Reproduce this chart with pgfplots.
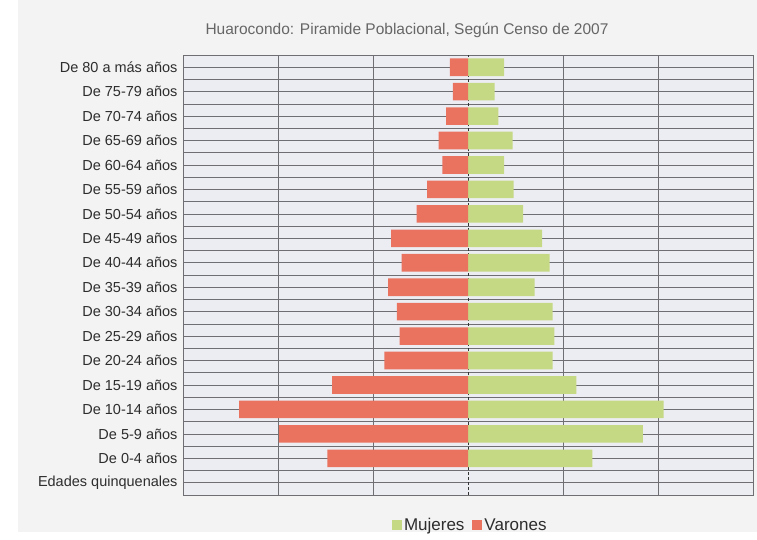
\documentclass[border=0pt]{standalone}
\usepackage{pgfplots}
\pgfplotsset{compat=1.18}
\usepackage{fontspec}
\setmainfont{Liberation Sans}

\definecolor{mujer}{RGB}{197,216,132}
\definecolor{varon}{RGB}{233,115,95}
\definecolor{plotbg}{RGB}{236,237,243}
\definecolor{chartbg}{RGB}{243,243,244}
\definecolor{gridc}{RGB}{110,110,115}
\definecolor{txt}{RGB}{45,45,45}

\pgfplotstableread{
y  muj  var
1  131  -148
2  184  -199
3  206  -241
4  114  -143
5   89   -88
6   91   -72
7   89   -75
8   70   -84
9   86   -70
10  78   -81
11  58   -54
12  48   -43
13  38   -27
14  47   -31
15  32   -23
16  28   -16
17  38   -19
}\piramide

\begin{document}
\begin{tikzpicture}[x=1bp,y=1bp]
\useasboundingbox (0,0) rectangle (757,540);
\fill[white] (0,0) rectangle (757,540);
\fill[chartbg] (18,8) rectangle (757,540);
\node[text=black!60, font=\fontsize{15.5bp}{18bp}\selectfont] at (407,510)
  {Huarocondo: Piramide Poblacional, Según Censo de 2007};

\begin{axis}[
    at={(183bp,45bp)}, anchor=south west,
    scale only axis, width=570bp, height=440bp,
    xmin=-300, xmax=300, ymin=-0.5, ymax=17.5,
    xtick={-200,-100,100,200}, xticklabels={},
    ytick={0,...,17},
    yticklabels={Edades quinquenales,De 0-4 años,De 5-9 años,De 10-14 años,
      De 15-19 años,De 20-24 años,De 25-29 años,De 30-34 años,De 35-39 años,
      De 40-44 años,De 45-49 años,De 50-54 años,De 55-59 años,De 60-64 años,
      De 65-69 años,De 70-74 años,De 75-79 años,De 80 a más años},
    minor y tick num=1,
    major tick length=0pt, minor tick length=0pt,
    grid=both,
    major grid style={gridc, line width=0.7pt},
    minor grid style={gridc, line width=0.7pt},
    extra x ticks={0}, extra x tick labels={},
    extra x tick style={grid=major, major grid style={black!80, line width=0.7pt, densely dashed}},
    axis line style={gridc, line width=0.7pt},
    axis background/.style={fill=plotbg},
    yticklabel style={text=txt, font=\fontsize{14.5bp}{17bp}\selectfont, xshift=-2bp},
    bar width=0.72,
    legend columns=2,
    legend style={at={(0.504,-0.068)}, anchor=center, draw=none, fill=none,
      font=\fontsize{17bp}{20bp}\selectfont, text=txt,
      /tikz/every even column/.append style={column sep=6bp}},
    legend image code/.code={\fill[#1] (0bp,-5bp) rectangle (10bp,5bp);},
]
\addplot[xbar, bar shift=0pt, fill=mujer, draw=none] table[x=muj, y=y] {\piramide};
\addlegendentry{Mujeres}
\addplot[xbar, bar shift=0pt, fill=varon, draw=none] table[x=var, y=y] {\piramide};
\addlegendentry{Varones}
\end{axis}
\end{tikzpicture}
\end{document}
